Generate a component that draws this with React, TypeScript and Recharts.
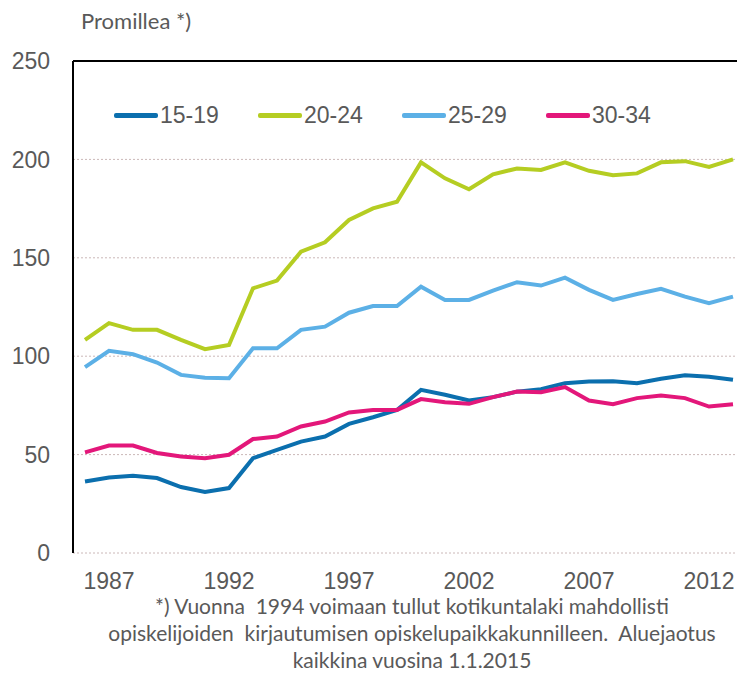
import { LineChart, Line, XAxis, YAxis, CartesianGrid, ReferenceLine } from "recharts";

const years = [
    1986, 1987, 1988, 1989, 1990, 1991, 1992, 1993, 1994, 1995, 1996, 1997, 1998, 1999,
    2000, 2001, 2002, 2003, 2004, 2005, 2006, 2007, 2008, 2009, 2010, 2011, 2012, 2013,
];

const age15_19 = [
    36.3, 38.4, 39.2, 38.1, 33.5, 31.0, 33.0, 48.2, 52.4, 56.6, 59.2, 65.6, 69.0, 72.7,
    82.9, 80.4, 77.5, 79.2, 82.0, 83.2, 86.3, 87.1, 87.3, 86.3, 88.5, 90.3, 89.6, 88.0,
];
const age20_24 = [
    108.3, 116.8, 113.4, 113.4, 108.3, 103.6, 105.7, 134.5, 138.4, 153.1, 157.9, 169.2, 175.1, 178.5,
    198.5, 190.4, 184.8, 192.4, 195.4, 194.6, 198.5, 194.2, 192.0, 192.9, 198.5, 199.1, 196.2, 200.0,
];
const age25_29 = [
    94.4, 102.7, 101.0, 96.8, 90.5, 89.1, 88.8, 104.0, 104.0, 113.4, 115.0, 122.1, 125.5, 125.5,
    135.3, 128.6, 128.6, 133.3, 137.6, 135.9, 139.9, 133.7, 128.6, 131.6, 134.2, 130.3, 126.9, 130.3,
];
const age30_34 = [
    51.1, 54.6, 54.6, 50.8, 49.0, 48.2, 49.9, 57.9, 59.2, 64.3, 66.8, 71.4, 72.7, 72.7,
    78.2, 76.6, 75.8, 79.2, 82.0, 81.7, 84.3, 77.5, 75.6, 78.7, 80.0, 78.7, 74.4, 75.6,
];

const labelYears = [1987, 1992, 1997, 2002, 2007, 2012];
const yTicks = [0, 50, 100, 150, 200, 250];

const series = [
    { key: "a", name: "15-19", color: "#0b6fae" },
    { key: "b", name: "20-24", color: "#b5cd22" },
    { key: "c", name: "25-29", color: "#5cb0e6" },
    { key: "d", name: "30-34", color: "#e3177a" },
];

const noteLines = [
    "*) Vuonna  1994 voimaan tullut kotikuntalaki mahdollisti",
    "opiskelijoiden  kirjautumisen opiskelupaikkakunnilleen.  Aluejaotus",
    "kaikkina vuosina 1.1.2015",
];

const data = years.map((year, i) => ({
    year,
    a: age15_19[i],
    b: age20_24[i],
    c: age25_29[i],
    d: age30_34[i],
}));

// tick marks sit between the years
const boundaries = [years[0] - 0.5, ...years.map((y) => y + 0.5)];

const tickFont = { fontFamily: "Liberation Sans", fontSize: 23, fill: "#595959" };
const noteFont = { fontFamily: "Lato", color: "#595959" };

export default function App() {
    return (
        <div style={{ position: "relative", width: 745, height: 675, margin: "-8px 0 0 -8px", background: "#fff" }}>
            <div style={{ position: "absolute", left: 81, top: 11, fontSize: 22, lineHeight: "20px", ...noteFont }}>
                Promillea *)
            </div>
            <LineChart width={745} height={675} data={data} margin={{ top: 61, right: 0, bottom: 0, left: 0 }}>
                <CartesianGrid vertical={false} stroke="#cbb8b8" strokeDasharray="2 2" />
                <XAxis
                    xAxisId="marks"
                    dataKey="year"
                    type="number"
                    domain={[boundaries[0], boundaries[boundaries.length - 1]]}
                    ticks={boundaries}
                    tick={false}
                    tickSize={6}
                    height={0}
                    axisLine={{ stroke: "#000", strokeWidth: 2 }}
                    tickLine={{ stroke: "#000", strokeWidth: 1.5 }}
                />
                <XAxis
                    xAxisId="labels"
                    dataKey="year"
                    type="number"
                    domain={[boundaries[0], boundaries[boundaries.length - 1]]}
                    ticks={labelYears}
                    interval={0}
                    height={122}
                    axisLine={false}
                    tickLine={false}
                    tickMargin={14}
                    tick={tickFont}
                />
                <YAxis
                    domain={[0, 250]}
                    ticks={yTicks}
                    width={73}
                    axisLine={{ stroke: "#000", strokeWidth: 2 }}
                    tickLine={false}
                    tickMargin={17}
                    tick={tickFont}
                />
                <ReferenceLine xAxisId="marks" y={250} stroke="#000" strokeWidth={2} />
                {series.map((s) => (
                    <Line
                        key={s.key}
                        xAxisId="marks"
                        type="linear"
                        dataKey={s.key}
                        name={s.name}
                        stroke={s.color}
                        strokeWidth={4}
                        dot={false}
                        isAnimationActive={false}
                    />
                ))}
            </LineChart>
            <div style={{ position: "absolute", left: 114, top: 101, display: "flex", fontFamily: "Liberation Sans", fontSize: 23, color: "#595959", lineHeight: "28px" }}>
                {series.map((s) => (
                    <div key={s.key} style={{ width: 144, display: "flex", alignItems: "center" }}>
                        <span style={{ display: "inline-block", width: 44, height: 5, borderRadius: 2, background: s.color, marginRight: 2 }} />
                        <span>{s.name}</span>
                    </div>
                ))}
            </div>
            {noteLines.map((line, i) => (
                <div
                    key={i}
                    style={{ position: "absolute", left: 100, top: 597 + i * 27, width: 624, textAlign: "center", fontSize: 21, lineHeight: "18px", whiteSpace: "pre", ...noteFont }}
                >
                    {line}
                </div>
            ))}
        </div>
    );
}
